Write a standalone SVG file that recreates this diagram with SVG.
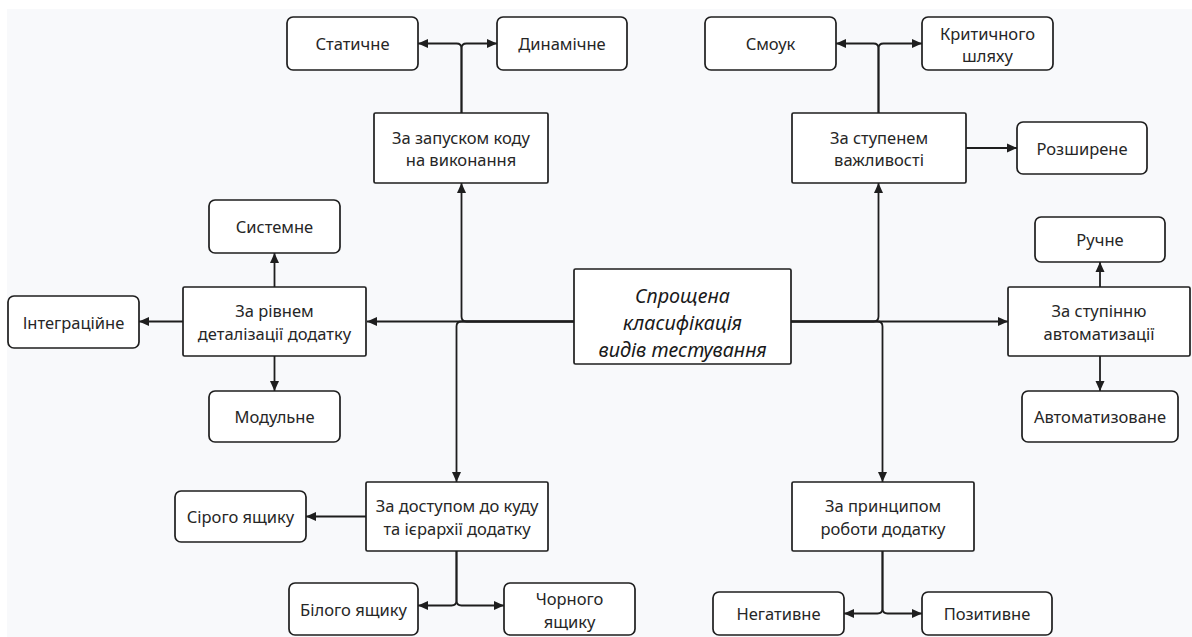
<svg xmlns="http://www.w3.org/2000/svg" width="1192" height="637" viewBox="0 0 1192 637">
<defs>
<style>
.bg{fill:#f8f9fb}
.leaf{fill:#fff;stroke:#1e1e1e;stroke-width:1.7}
.cat{fill:#fff;stroke:#1e1e1e;stroke-width:1.7}
.t{font-family:"Noto Sans","Open Sans",sans-serif;font-size:16.5px;fill:#262626;text-anchor:middle;dominant-baseline:central}
.c{font-family:"Noto Sans","Open Sans",sans-serif;font-size:19.8px;font-style:italic;fill:#1a1a1a;text-anchor:middle;dominant-baseline:central}
.e{fill:none;stroke:#1e1e1e;stroke-width:1.8;marker-end:url(#ah)}
</style>
<marker id="ah" viewBox="0 0 10 10" refX="10" refY="5" markerWidth="10" markerHeight="10" markerUnits="userSpaceOnUse" orient="auto">
<path d="M0,0.5 L10,5 L0,9.5 z" fill="#1e1e1e"/>
</marker>
</defs>
<rect width="1192" height="637" fill="#fff"/>
<rect class="bg" x="7" y="9" width="1185" height="628"/>

<g id="connectors">
<path class="e" d="M574,321.5 H367"/>
<path class="e" d="M791,321.5 H1008"/>
<path class="e" d="M574,321.5 H466.5 Q461.5,321.5 461.5,316.5 V183"/>
<path class="e" d="M574,321.5 H461.5 Q456.5,321.5 456.5,326.5 V482"/>
<path class="e" d="M791,321.5 H873.5 Q878.5,321.5 878.5,316.5 V183"/>
<path class="e" d="M791,321.5 H877.5 Q882.5,321.5 882.5,326.5 V482"/>
<path class="e" d="M461.5,113 V48.5 Q461.5,43.5 456.5,43.5 H418"/>
<path class="e" d="M461.5,113 V48.5 Q461.5,43.5 466.5,43.5 H497"/>
<path class="e" d="M878.5,113 V48.5 Q878.5,43.5 873.5,43.5 H836"/>
<path class="e" d="M878.5,113 V48.5 Q878.5,43.5 883.5,43.5 H922"/>
<path class="e" d="M966,148 H1017"/>
<path class="e" d="M274.5,287 V253"/>
<path class="e" d="M183,321.5 H139"/>
<path class="e" d="M274.5,356 V391"/>
<path class="e" d="M1100,287 V262"/>
<path class="e" d="M1100,356 V391"/>
<path class="e" d="M366,516.5 H306"/>
<path class="e" d="M456.5,551 V600.5 Q456.5,605.5 451.5,605.5 H418"/>
<path class="e" d="M456.5,551 V600.5 Q456.5,605.5 461.5,605.5 H504"/>
<path class="e" d="M882.5,551 V608.5 Q882.5,613.5 877.5,613.5 H844"/>
<path class="e" d="M882.5,551 V608.5 Q882.5,613.5 887.5,613.5 H922"/>
</g>

<g id="center">
<rect class="cat" x="574" y="269" width="217" height="95" rx="1.5"/>
<text class="c" x="682.5" y="295">Спрощена</text>
<text class="c" x="682.5" y="322">класифікація</text>
<text class="c" x="682.5" y="349">видів тестування</text>
</g>

<g id="cat-launch">
<rect class="cat" x="374" y="113" width="174" height="70" rx="1.5"/>
<text class="t" x="461" y="137">За запуском коду</text>
<text class="t" x="461" y="159.5">на виконання</text>
</g>
<g id="cat-importance">
<rect class="cat" x="792" y="113" width="174" height="70" rx="1.5"/>
<text class="t" x="879" y="137">За ступенем</text>
<text class="t" x="879" y="159.5">важливості</text>
</g>
<g id="cat-level">
<rect class="cat" x="183" y="287" width="183" height="69" rx="1.5"/>
<text class="t" x="274.5" y="310.5">За рівнем</text>
<text class="t" x="274.5" y="333">деталізації додатку</text>
</g>
<g id="cat-automation">
<rect class="cat" x="1008" y="287" width="182" height="69" rx="1.5"/>
<text class="t" x="1099" y="310.5">За ступінню</text>
<text class="t" x="1099" y="333">автоматизації</text>
</g>
<g id="cat-access">
<rect class="cat" x="366" y="482" width="182" height="69" rx="1.5"/>
<text class="t" x="457" y="505.5">За доступом до куду</text>
<text class="t" x="457" y="528">та ієрархії додатку</text>
</g>
<g id="cat-principle">
<rect class="cat" x="792" y="482" width="182" height="69" rx="1.5"/>
<text class="t" x="883" y="505.5">За принципом</text>
<text class="t" x="883" y="528">роботи додатку</text>
</g>

<g id="static">
<rect class="leaf" x="287" y="17" width="131" height="53" rx="6"/>
<text class="t" x="352.5" y="43.5">Статичне</text>
</g>
<g id="dynamic">
<rect class="leaf" x="497" y="17" width="130" height="53" rx="6"/>
<text class="t" x="562" y="43.5">Динамічне</text>
</g>
<g id="smoke">
<rect class="leaf" x="705" y="17" width="131" height="53" rx="6"/>
<text class="t" x="770.5" y="43.5">Смоук</text>
</g>
<g id="critical">
<rect class="leaf" x="922" y="17" width="131" height="53" rx="6"/>
<text class="t" x="987.5" y="33">Критичного</text>
<text class="t" x="987.5" y="55.5">шляху</text>
</g>
<g id="extended">
<rect class="leaf" x="1017" y="122" width="130" height="52" rx="6"/>
<text class="t" x="1082" y="148">Розширене</text>
</g>
<g id="system">
<rect class="leaf" x="209" y="200" width="131" height="53" rx="6"/>
<text class="t" x="274.5" y="226.5">Системне</text>
</g>
<g id="integration">
<rect class="leaf" x="8" y="296" width="131" height="52" rx="6"/>
<text class="t" x="73.5" y="322">Інтеграційне</text>
</g>
<g id="module">
<rect class="leaf" x="209" y="391" width="131" height="51" rx="6"/>
<text class="t" x="274.5" y="416.5">Модульне</text>
</g>
<g id="manual">
<rect class="leaf" x="1035" y="217" width="130" height="45" rx="6"/>
<text class="t" x="1100" y="239.5">Ручне</text>
</g>
<g id="automated">
<rect class="leaf" x="1022" y="391" width="156" height="51" rx="6"/>
<text class="t" x="1100" y="416.5">Автоматизоване</text>
</g>
<g id="grey">
<rect class="leaf" x="175" y="491" width="131" height="51" rx="6"/>
<text class="t" x="240.5" y="516.5">Сірого ящику</text>
</g>
<g id="white">
<rect class="leaf" x="289" y="583" width="129" height="52" rx="6"/>
<text class="t" x="353.5" y="609">Білого ящику</text>
</g>
<g id="black">
<rect class="leaf" x="504" y="583" width="131" height="52" rx="6"/>
<text class="t" x="569.5" y="598">Чорного</text>
<text class="t" x="569.5" y="621">ящику</text>
</g>
<g id="negative">
<rect class="leaf" x="713" y="592" width="131" height="43" rx="6"/>
<text class="t" x="778.5" y="613.5">Негативне</text>
</g>
<g id="positive">
<rect class="leaf" x="922" y="592" width="130" height="43" rx="6"/>
<text class="t" x="987" y="613.5">Позитивне</text>
</g>
</svg>
